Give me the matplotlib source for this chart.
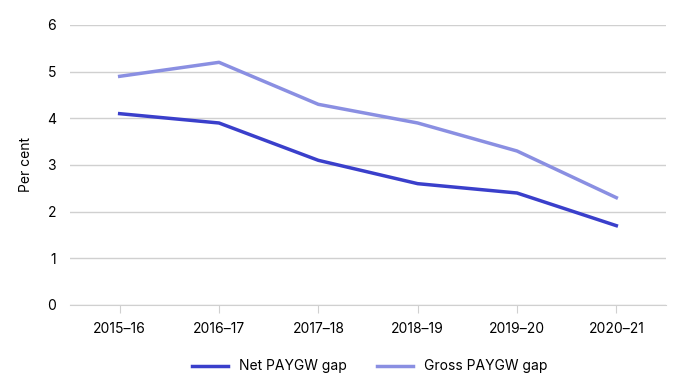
import matplotlib.pyplot as plt

years = ["2015\u201316", "2016\u201317", "2017\u201318", "2018\u201319", "2019\u201320", "2020\u201321"]
net_gap = [4.1, 3.9, 3.1, 2.6, 2.4, 1.7]
gross_gap = [4.9, 5.2, 4.3, 3.9, 3.3, 2.3]

plt.rcParams['font.family'] = ['Inter', 'DejaVu Sans']

fig = plt.figure(figsize=(6.89, 3.77), dpi=100)
ax = fig.add_axes([0.1016, 0.191, 0.865, 0.7427])

x = range(len(years))
ax.plot(x, net_gap, color="#3a3fcb", lw=2.5, label="Net PAYGW gap")
ax.plot(x, gross_gap, color="#8a8fe2", lw=2.5, label="Gross PAYGW gap")

ax.set_xlim(-0.5, 5.5)
ax.set_ylim(0, 6)
ax.set_yticks(range(0, 7))
ax.set_xticks(list(x))
ax.set_xticklabels(years)
ax.grid(axis="y", color="#d0d0d0", lw=1)
ax.set_axisbelow(True)
for s in ["top", "right", "left"]:
    ax.spines[s].set_visible(False)
ax.spines["bottom"].set_color("#d0d0d0")
ax.tick_params(axis="y", length=0, pad=10, labelsize=10)
ax.tick_params(axis="x", length=6, color="#d0d0d0", pad=6, labelsize=10)
ax.set_ylabel("Per cent", fontsize=10, labelpad=10)

ax.legend(loc="upper center", bbox_to_anchor=(0.503, -0.15), ncol=2, frameon=False,
          fontsize=10, handlelength=2.6, columnspacing=2.2)

fig.savefig("out.png", dpi=100)
